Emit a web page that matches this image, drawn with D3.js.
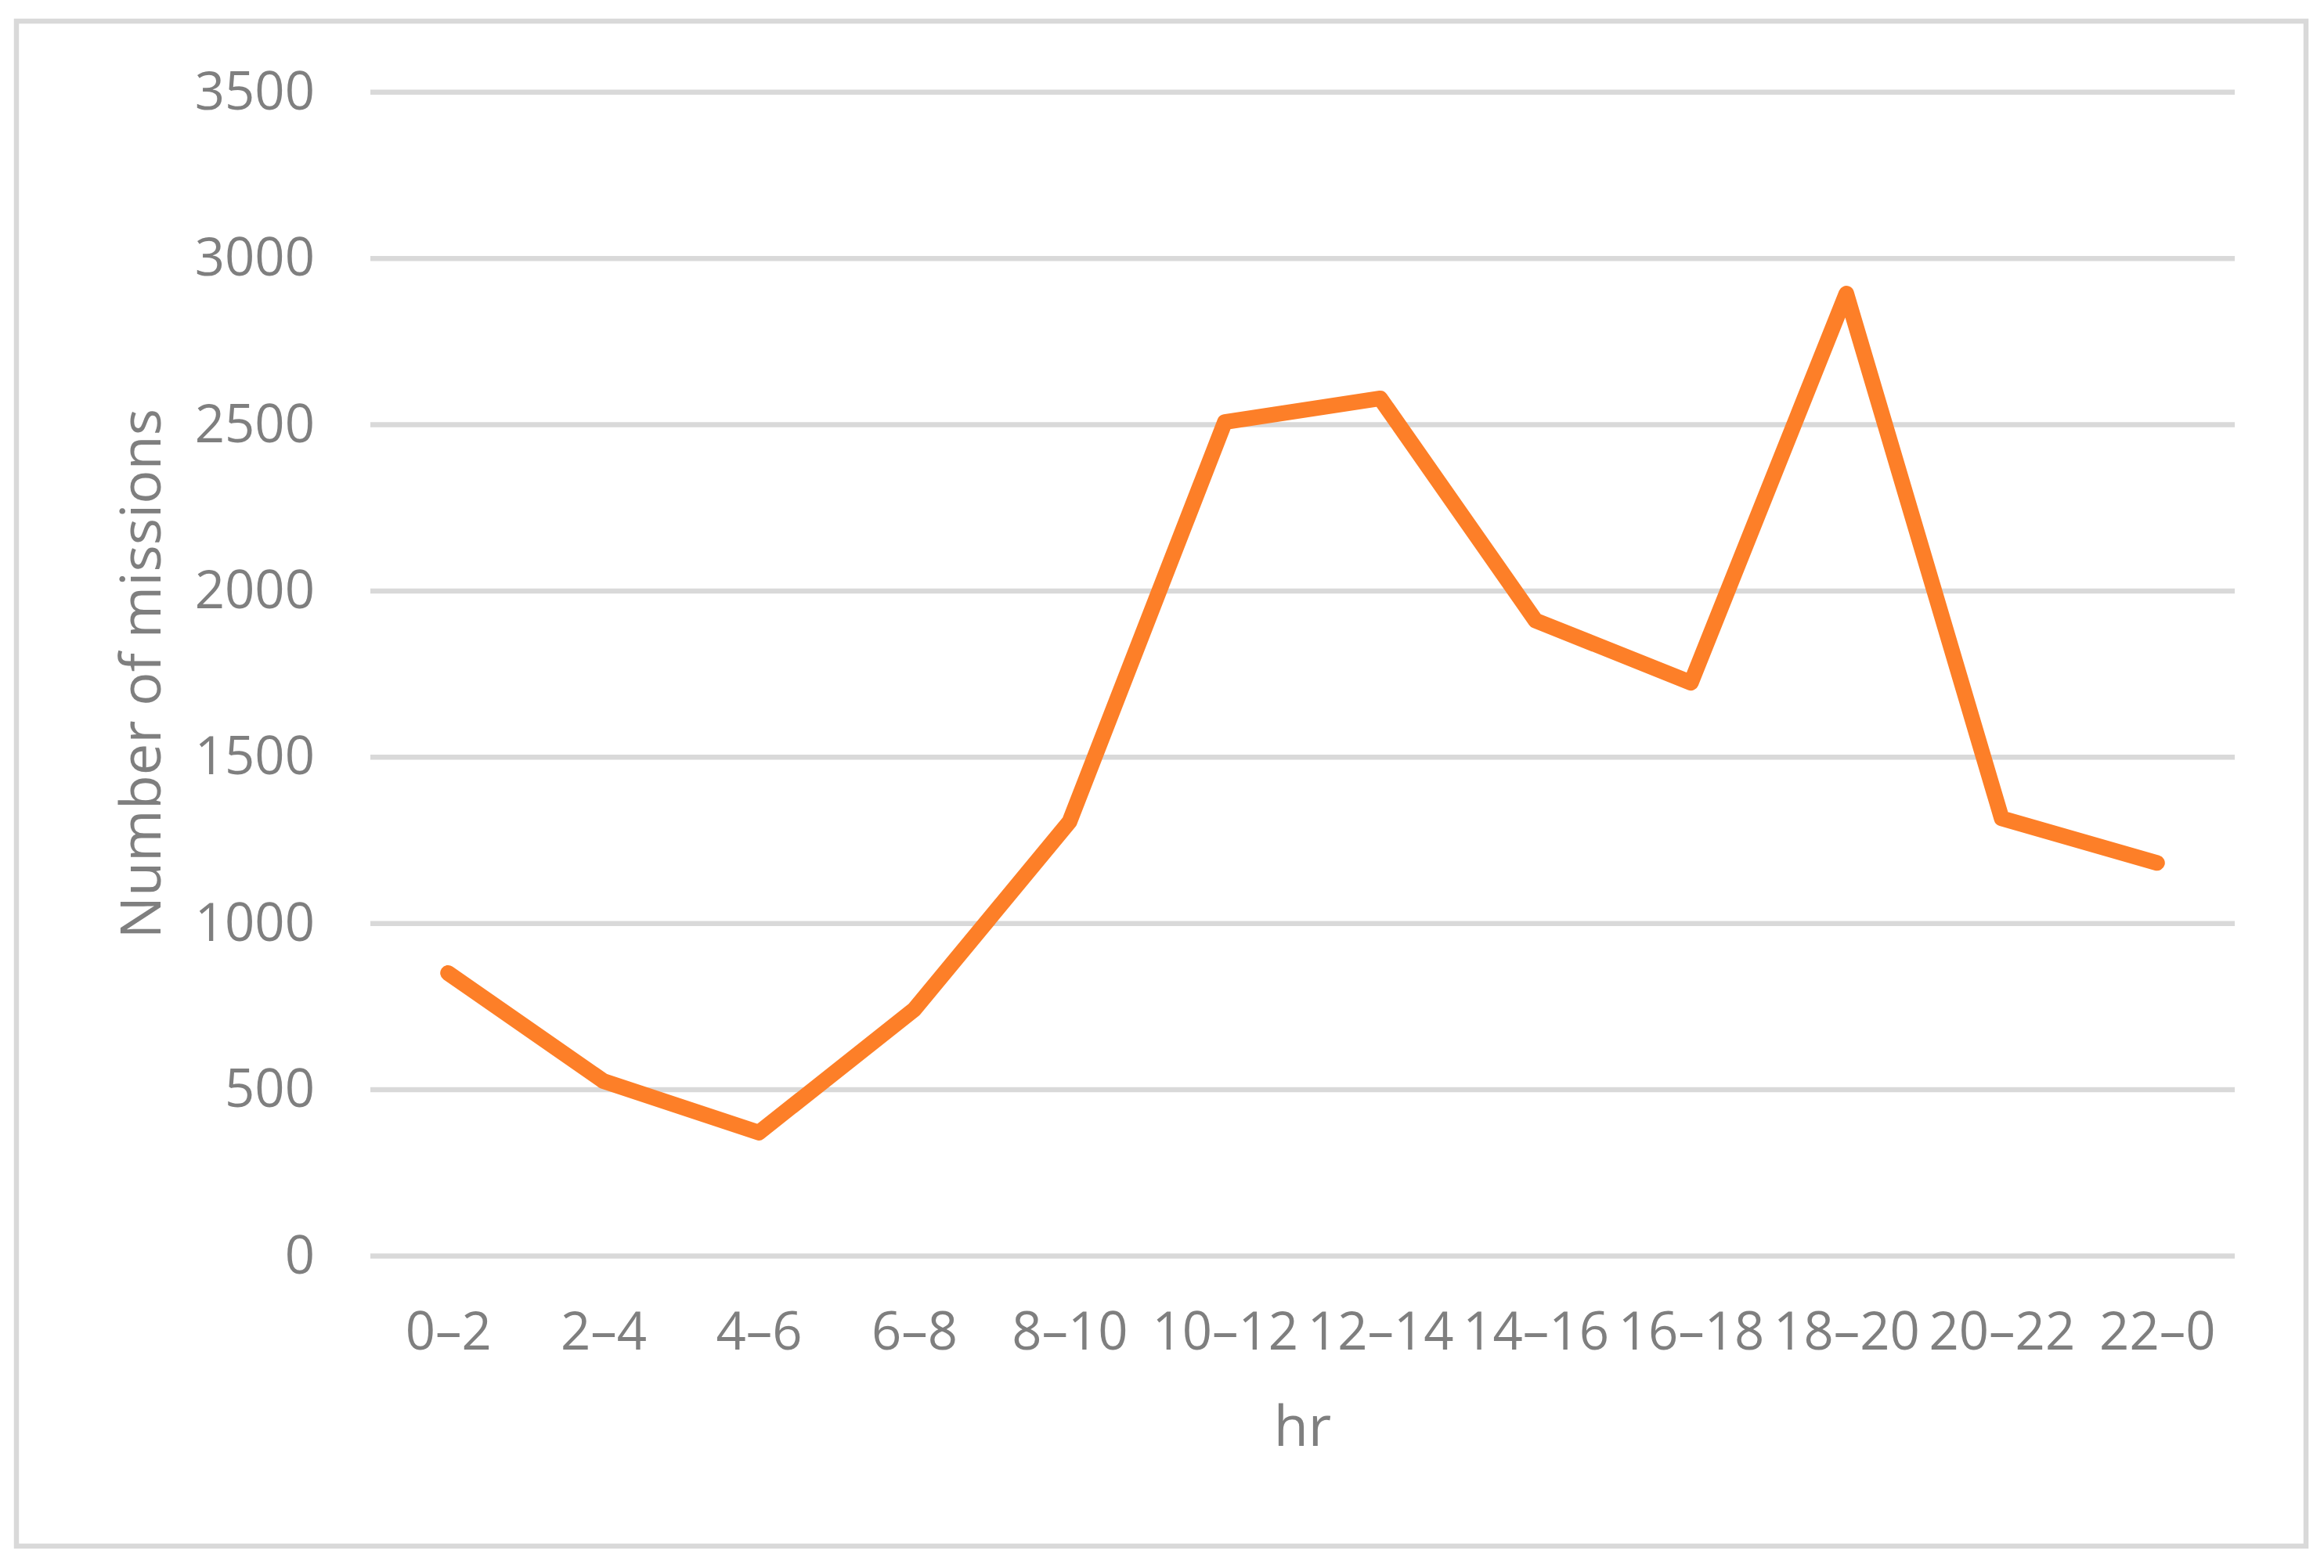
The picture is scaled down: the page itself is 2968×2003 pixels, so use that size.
<!DOCTYPE html>
<html>
<head>
<meta charset="utf-8">
<script src="https://cdn.jsdelivr.net/npm/d3@7"></script>
<style>
  html, body { margin: 0; padding: 0; background: #fff; }
  text { font-family: "Open Sans", "Noto Sans", sans-serif; fill: #7f7f7f; }
</style>
</head>
<body>
<script>
var hours = ['0–2', '2–4', '4–6', '6–8', '8–10', '10–12', '12–14', '14–16', '16–18', '18–20', '20–22', '22–0'];
var missions = [850, 525, 370, 740, 1305, 2507, 2578, 1910, 1723, 2893, 1315, 1181];
var yTicks = [0, 500, 1000, 1500, 2000, 2500, 3000, 3500];

var w = 2968;
var h = 2003;
var plotLeft = 473, plotRight = 2854, plotTop = 117.3, plotBottom = 1604;

var svg = d3.select('body')
            .append('svg')
            .attr('width', w)
            .attr('height', h);

svg.append('rect')
   .attr('width', w)
   .attr('height', h)
   .attr('fill', 'white');

// outer frame
svg.append('rect')
   .attr('x', 21)
   .attr('y', 27)
   .attr('width', 2945 - 21)
   .attr('height', 1975 - 27)
   .attr('fill', 'none')
   .attr('stroke', '#d9d9d9')
   .attr('stroke-width', 6.5);

var x = d3.scalePoint()
          .domain(hours)
          .range([plotLeft, plotRight])
          .padding(0.5);

var y = d3.scaleLinear()
          .domain([0, 3500])
          .range([plotBottom, plotTop]);

// gridlines
var grid = svg.append('g')
              .attr('transform', 'translate(' + plotLeft + ',0)')
              .call(d3.axisLeft(y).tickValues(yTicks).tickSize(-(plotRight - plotLeft)).tickFormat(''));
grid.select('.domain').remove();
grid.selectAll('line')
    .attr('stroke', '#d9d9d9')
    .attr('stroke-width', 6.5);

// y tick labels
var yAxis = svg.append('g')
               .attr('transform', 'translate(' + plotLeft + ',0)')
               .call(d3.axisLeft(y).tickValues(yTicks).tickFormat(d3.format('d')).tickSize(0).tickPadding(71));
yAxis.select('.domain').remove();
yAxis.selectAll('text')
     .attr('font-size', 67)
     .attr('dy', '0.33em')
     .attr('fill', '#7f7f7f')
     .style('font-family', '"Open Sans", "Noto Sans", sans-serif');

// x tick labels
var xAxis = svg.append('g')
               .attr('transform', 'translate(0,' + plotBottom + ')')
               .call(d3.axisBottom(x).tickSize(0));
xAxis.select('.domain').remove();
xAxis.selectAll('text')
     .attr('font-size', 67)
     .attr('y', 120)
     .attr('dy', 0)
     .attr('fill', '#7f7f7f')
     .style('font-family', '"Open Sans", "Noto Sans", sans-serif');

// axis titles
svg.append('text')
   .attr('transform', 'translate(205,' + ((plotTop + plotBottom) / 2) + ') rotate(-90)')
   .attr('text-anchor', 'middle')
   .attr('font-size', 72)
   .text('Number of missions');

svg.append('text')
   .attr('x', (plotLeft + plotRight) / 2)
   .attr('y', 1847)
   .attr('text-anchor', 'middle')
   .attr('font-size', 72)
   .text('hr');

// the line
var line = d3.line()
             .x(function(d, i){ return x(hours[i]); })
             .y(function(d){ return y(d); });

svg.append('path')
   .datum(missions)
   .attr('d', line)
   .attr('fill', 'none')
   .attr('stroke', '#fd7f28')
   .attr('stroke-width', 20)
   .attr('stroke-linecap', 'round')
   .attr('stroke-linejoin', 'round');
</script>
</body>
</html>
